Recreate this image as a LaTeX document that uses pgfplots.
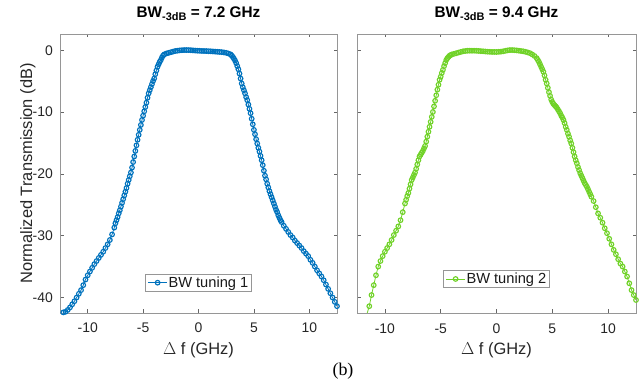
\documentclass[border=0pt]{standalone}
\usepackage{fontspec}
\setmainfont{Liberation Sans}
\newfontfamily\serifface{Liberation Serif}
\usepackage{pgfplots}
\pgfplotsset{compat=1.18}
\usepackage{pgfplotstable}

\definecolor{tuneblue}{RGB}{0,114,189}
\definecolor{tunegreen}{RGB}{112,210,40}
\definecolor{frame}{RGB}{150,150,150}

% Filter response, BW tuning 1 (detuning in GHz, transmission in dB)
\pgfplotstableread{
x y
-12.2 -42.4
-12.0 -42.3
-11.8 -42.0
-11.6 -41.6
-11.4 -41.1
-11.2 -40.6
-11.0 -40.0
-10.8 -39.4
-10.6 -38.8
-10.4 -38.0
-10.2 -37.1
-10.0 -36.4
-9.8 -35.8
-9.6 -35.2
-9.4 -34.6
-9.2 -34.1
-9.0 -33.6
-8.8 -33.1
-8.6 -32.6
-8.4 -32.0
-8.2 -31.4
-8.0 -30.7
-7.8 -29.8
-7.6 -28.7
-7.5 -28.0
-7.4 -27.5
-7.3 -27.0
-7.2 -26.4
-7.1 -25.9
-7.0 -25.3
-6.9 -24.7
-6.8 -24.1
-6.7 -23.5
-6.6 -22.9
-6.5 -22.3
-6.4 -21.6
-6.3 -21.0
-6.2 -20.4
-6.1 -19.8
-6.0 -19.0
-5.9 -18.1
-5.8 -17.2
-5.7 -16.3
-5.6 -15.4
-5.5 -14.5
-5.4 -13.7
-5.3 -12.9
-5.2 -12.1
-5.1 -11.3
-5.0 -10.6
-4.9 -9.9
-4.8 -9.2
-4.7 -8.5
-4.6 -7.7
-4.5 -7.0
-4.4 -6.5
-4.3 -6.0
-4.2 -5.5
-4.1 -5.0
-4.0 -4.6
-3.9 -3.9
-3.8 -3.3
-3.7 -2.7
-3.6 -2.3
-3.5 -1.9
-3.4 -1.6
-3.3 -1.2
-3.2 -0.9
-3.1 -0.7
-2.9 -0.55
-2.7 -0.45
-2.5 -0.35
-2.3 -0.25
-2.1 -0.15
-1.9 -0.10
-1.7 -0.05
-1.5 -0.02
-1.3 0.0
-1.1 0.0
-0.9 0.0
-0.7 -0.02
-0.5 -0.05
-0.3 -0.08
-0.1 -0.10
0.1 -0.12
0.3 -0.14
0.5 -0.15
0.7 -0.16
0.9 -0.18
1.1 -0.20
1.3 -0.22
1.5 -0.25
1.7 -0.28
1.9 -0.30
2.1 -0.33
2.3 -0.38
2.5 -0.45
2.7 -0.55
2.9 -0.7
3.0 -0.9
3.1 -1.1
3.2 -1.4
3.3 -1.7
3.4 -2.1
3.5 -2.6
3.6 -3.1
3.7 -3.8
3.8 -4.6
3.9 -5.4
4.0 -6.0
4.1 -6.5
4.2 -7.0
4.3 -7.6
4.4 -8.1
4.5 -8.8
4.6 -9.5
4.7 -10.2
4.8 -11.1
4.9 -12.0
5.0 -12.9
5.1 -13.6
5.2 -14.4
5.3 -15.1
5.4 -15.8
5.5 -16.4
5.6 -17.1
5.7 -17.8
5.8 -18.6
5.9 -19.5
6.0 -20.3
6.1 -20.9
6.2 -21.6
6.3 -22.2
6.4 -22.8
6.5 -23.3
6.6 -23.8
6.7 -24.3
6.8 -24.8
6.9 -25.3
7.0 -25.8
7.1 -26.2
7.2 -26.7
7.3 -27.1
7.4 -27.5
7.5 -27.8
7.7 -28.4
7.9 -28.9
8.1 -29.4
8.3 -29.9
8.5 -30.3
8.7 -30.8
8.9 -31.2
9.1 -31.6
9.3 -32.0
9.5 -32.5
9.7 -32.9
9.9 -33.3
10.1 -33.9
10.3 -34.4
10.5 -35.0
10.7 -35.6
10.9 -36.1
11.1 -36.6
11.3 -37.2
11.5 -37.9
11.7 -38.6
11.9 -39.3
12.1 -40.0
12.3 -40.7
12.5 -41.4
}\tuningone

% Filter response, BW tuning 2
\pgfplotstableread{
x y
-11.6 -42.6
-11.4 -41.4
-11.2 -39.6
-11.0 -38.0
-10.8 -36.4
-10.6 -35.0
-10.4 -34.1
-10.2 -33.3
-10.0 -32.6
-9.8 -32.0
-9.6 -31.4
-9.4 -30.7
-9.2 -29.9
-9.0 -29.2
-8.8 -28.5
-8.6 -27.5
-8.4 -26.2
-8.2 -24.8
-8.1 -24.2
-8.0 -23.6
-7.9 -23.1
-7.8 -22.4
-7.7 -21.7
-7.6 -21.0
-7.5 -20.6
-7.4 -20.2
-7.3 -19.8
-7.2 -19.2
-7.1 -18.5
-7.0 -17.8
-6.9 -17.2
-6.8 -16.9
-6.7 -16.6
-6.6 -16.3
-6.5 -15.9
-6.4 -15.5
-6.3 -14.8
-6.2 -14.0
-6.1 -13.2
-6.0 -12.4
-5.9 -11.6
-5.8 -10.8
-5.7 -10.0
-5.6 -9.1
-5.5 -8.2
-5.4 -7.3
-5.3 -6.4
-5.2 -5.6
-5.1 -4.8
-5.0 -4.3
-4.9 -3.7
-4.8 -3.2
-4.7 -2.6
-4.6 -2.1
-4.5 -1.6
-4.4 -1.3
-4.3 -1.1
-4.2 -0.9
-4.1 -0.8
-4.0 -0.7
-3.8 -0.6
-3.6 -0.5
-3.4 -0.4
-3.2 -0.3
-3.0 -0.2
-2.8 -0.15
-2.6 -0.1
-2.4 -0.1
-2.2 -0.1
-2.0 -0.1
-1.8 -0.12
-1.6 -0.14
-1.4 -0.17
-1.2 -0.2
-1.0 -0.23
-0.8 -0.26
-0.6 -0.28
-0.4 -0.3
-0.2 -0.3
0.0 -0.3
0.2 -0.28
0.4 -0.25
0.6 -0.2
0.8 -0.12
1.0 -0.05
1.2 0.0
1.4 0.0
1.6 -0.02
1.8 -0.05
2.0 -0.1
2.2 -0.15
2.4 -0.2
2.6 -0.28
2.8 -0.38
3.0 -0.5
3.2 -0.7
3.4 -0.95
3.6 -1.3
3.7 -1.6
3.8 -1.9
3.9 -2.3
4.0 -2.7
4.1 -3.1
4.2 -3.5
4.3 -4.1
4.4 -4.8
4.5 -5.4
4.6 -6.1
4.7 -6.8
4.8 -7.4
4.9 -8.0
5.0 -8.4
5.1 -8.7
5.2 -8.9
5.3 -9.1
5.4 -9.3
5.5 -9.6
5.6 -9.9
5.7 -10.2
5.8 -10.6
5.9 -10.9
6.0 -11.3
6.1 -11.8
6.2 -12.4
6.3 -12.9
6.4 -13.5
6.5 -14.0
6.6 -14.6
6.7 -15.1
6.8 -15.8
6.9 -16.5
7.0 -17.2
7.1 -17.8
7.2 -18.3
7.3 -18.9
7.4 -19.4
7.5 -19.9
7.6 -20.3
7.7 -20.7
7.8 -21.1
7.9 -21.5
8.0 -21.8
8.1 -22.1
8.2 -22.5
8.3 -22.9
8.4 -23.3
8.5 -23.7
8.7 -24.4
8.9 -25.4
9.1 -26.4
9.3 -27.1
9.5 -27.9
9.7 -28.8
9.9 -29.6
10.1 -30.5
10.3 -31.4
10.5 -32.3
10.7 -33.0
10.9 -33.8
11.1 -34.5
11.3 -35.0
11.5 -35.8
11.7 -36.6
11.9 -37.7
12.1 -38.8
12.3 -39.6
12.5 -40.4
}\tuningtwo

\pgfplotsset{
  panel/.style={
    scale only axis,
    height=279bp,
    xmin=-12.5, xmax=12.5,
    ymin=-42.5, ymax=2.6,
    xtick={-10,-5,0,5,10},
    ytick={-40,-30,-20,-10,0},
    tick align=inside,
    major tick length=3.5bp,
    axis line style={frame, line width=0.5bp},
    tick style={black!60, line width=0.5bp},
    /pgf/number format/assume math mode=true,
    ticklabel style={font=\fontsize{14}{14}\selectfont, text=black!85, inner sep=0pt},
    xticklabel style={anchor=base, yshift=-20bp},
    yticklabel style={anchor=base east, xshift=-7bp, yshift=-5bp},
    xlabel={$\Delta$ f (GHz)},
    xlabel style={at={(axis description cs:0.5,-0.1505)}, anchor=base,
      font=\fontsize{16.5}{16.5}\selectfont, text=black!85, inner sep=0pt},
    title style={at={(axis description cs:0.5,1.0394)}, anchor=base,
      font=\fontsize{15.4}{15.4}\selectfont\bfseries, text=black, inner sep=0pt},
    legend style={draw=frame, line width=0.5bp, inner xsep=2bp, inner ysep=1.5bp,
      font=\fontsize{14.7}{14.7}\selectfont, text=black!90,
      nodes={inner sep=1bp}, anchor=center},
    legend image code/.code={
      \draw[mark repeat=2, mark phase=2, #1]
        plot coordinates {(0bp,0bp) (9.5bp,0bp) (19bp,0bp)};
    },
    every axis plot/.append style={line width=0.8bp, mark=o, mark size=2.3bp,
      mark options={line width=1.15bp, fill=none}},
  },
}

\begin{document}
\begin{tikzpicture}
\useasboundingbox (0bp,0bp) rectangle (642bp,381bp);

\begin{axis}[panel,
  at={(60bp,68bp)}, anchor=south west, width=277bp,
  title={BW\raisebox{-0.42ex}{\fontsize{11}{11}\selectfont -3dB} = 7.2 GHz},
  ylabel={Normalized Transmission (dB)},
  ylabel style={at={(axis description cs:-0.101,0.5)}, anchor=base, rotate=0,
    font=\fontsize{16.5}{16.5}\selectfont, text=black!85, inner sep=0pt},
  legend style={at={(axis cs:0,-37.6)}},
]
\addplot[color=tuneblue] table[x=x, y=y] {\tuningone};
\addlegendentry{BW tuning 1}
\end{axis}

\begin{axis}[panel,
  at={(357bp,68bp)}, anchor=south west, width=279bp,
  title={BW\raisebox{-0.42ex}{\fontsize{11}{11}\selectfont -3dB} = 9.4 GHz},
  yticklabels={},
  legend style={at={(axis cs:0,-37.0)}},
]
\addplot[color=tunegreen] table[x=x, y=y] {\tuningtwo};
\addlegendentry{BW tuning 2}
\end{axis}

\node[anchor=base, font=\serifface\fontsize{18}{18}\selectfont, text=black]
  at (343bp,6bp) {(b)};
\end{tikzpicture}
\end{document}
